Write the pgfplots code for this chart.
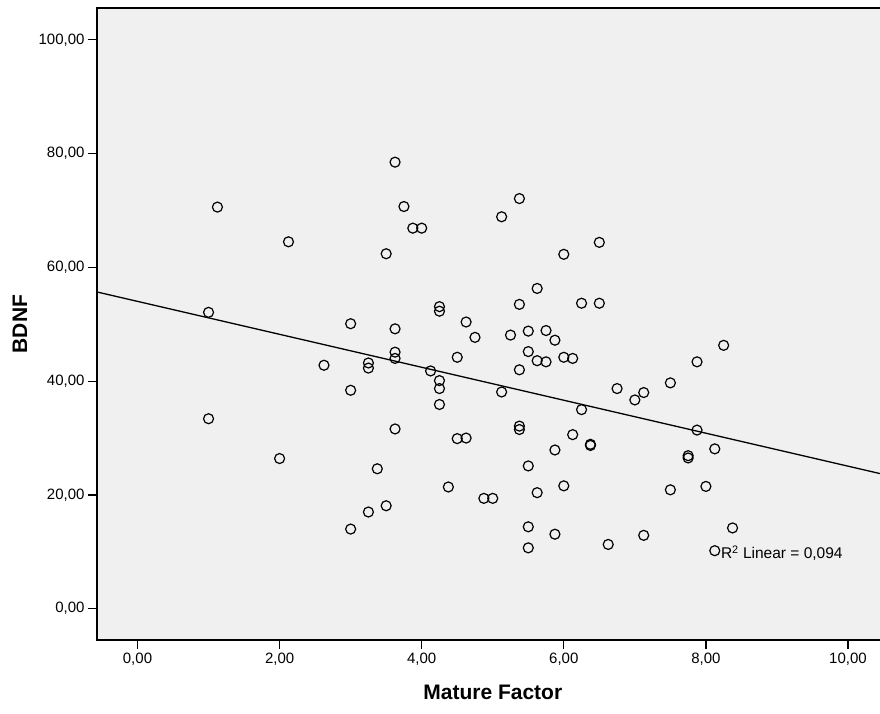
\documentclass[border=0pt]{standalone}
\usepackage{pgfplots}
\pgfplotsset{compat=1.18}
\usepackage{fontspec}
\setmainfont{Liberation Sans}
\definecolor{plotbg}{HTML}{F0F0F0}
\pgfplotstableread{
x y
1.125 70.6
2.125 64.5
3.5 62.4
1.0 52.1
3.0 50.1
3.625 78.5
3.75 70.7
3.875 66.9
4.0 66.9
5.375 72.1
5.125 68.9
6.5 64.4
6.0 62.3
5.625 56.3
4.25 53.1
4.25 52.3
5.375 53.5
6.25 53.7
6.5 53.7
4.625 50.4
3.625 49.2
4.75 47.7
5.25 48.1
5.5 48.8
5.75 48.9
5.875 47.2
3.625 45.1
3.625 44.0
4.5 44.2
5.5 45.2
5.625 43.6
5.75 43.4
6.0 44.2
6.125 44.0
5.375 42.0
4.125 41.8
4.25 40.1
4.25 38.7
4.25 35.9
5.125 38.1
6.75 38.7
7.0 36.7
7.125 38.0
7.5 39.7
6.25 35.0
3.625 31.6
4.5 29.9
4.625 30.0
5.375 32.1
5.375 31.5
6.125 30.6
6.375 28.9
6.375 28.7
5.875 27.9
5.5 25.1
3.375 24.6
4.375 21.4
4.875 19.4
5.0 19.4
5.625 20.4
6.0 21.6
7.5 20.9
3.5 18.1
5.5 14.4
5.5 10.7
5.875 13.1
6.625 11.3
7.125 12.9
2.625 42.8
3.25 43.2
3.25 42.3
3.0 38.4
1.0 33.4
2.0 26.4
3.25 17.0
3.0 14.0
8.25 46.3
7.875 43.4
7.875 31.4
8.125 28.1
7.75 26.9
7.75 26.5
8.0 21.5
8.375 14.2
8.125 10.2
}\datatable
\begin{document}
\begin{tikzpicture}
\begin{axis}[
  at={(0,0)}, anchor=south west,
  scale only axis, width=790pt, height=632pt,
  xmin=-0.57, xmax=10.549, ymin=-5.5, ymax=105.6,
  axis background/.style={fill=plotbg},
  axis line style={line width=1.3pt, black},
  xtick={0,2,...,10}, ytick={0,20,...,100},
  tick pos=left, tick align=outside, major tick length=9pt,
  minor tick num=0,
  tick style={line width=1.2pt, black},
  /pgf/number format/fixed, /pgf/number format/fixed zerofill,
  /pgf/number format/precision=2, /pgf/number format/use comma,
  /pgf/number format/assume math mode=true,
  tick label style={font=\fontsize{15}{18}\selectfont},
  xlabel={Mature Factor}, ylabel={BDNF},
  xlabel style={font=\bfseries\fontsize{21}{24}\selectfont, at={(axis description cs:0.501,-0.0823)}, anchor=center},
  ylabel style={font=\bfseries\fontsize{21}{24}\selectfont, at={(axis description cs:-0.0975,0.5)}, anchor=center},
  clip=true,
]
\addplot[black, line width=1.3pt] coordinates {(-0.57,55.68) (10.549,23.47)};
\addplot[only marks, mark=o, mark size=5pt, mark options={line width=1.2pt, draw=black}] table[x=x,y=y] {\datatable};
\node[anchor=west, inner sep=0pt, font=\fontsize{15.5}{18}\selectfont] at (axis cs:8.21,9.7) {R\textsuperscript{2} Linear = 0,094};
\end{axis}
\pgfresetboundingbox
\path[use as bounding box] (-97pt,-73pt) rectangle (783pt,640pt);
\end{tikzpicture}
\end{document}
